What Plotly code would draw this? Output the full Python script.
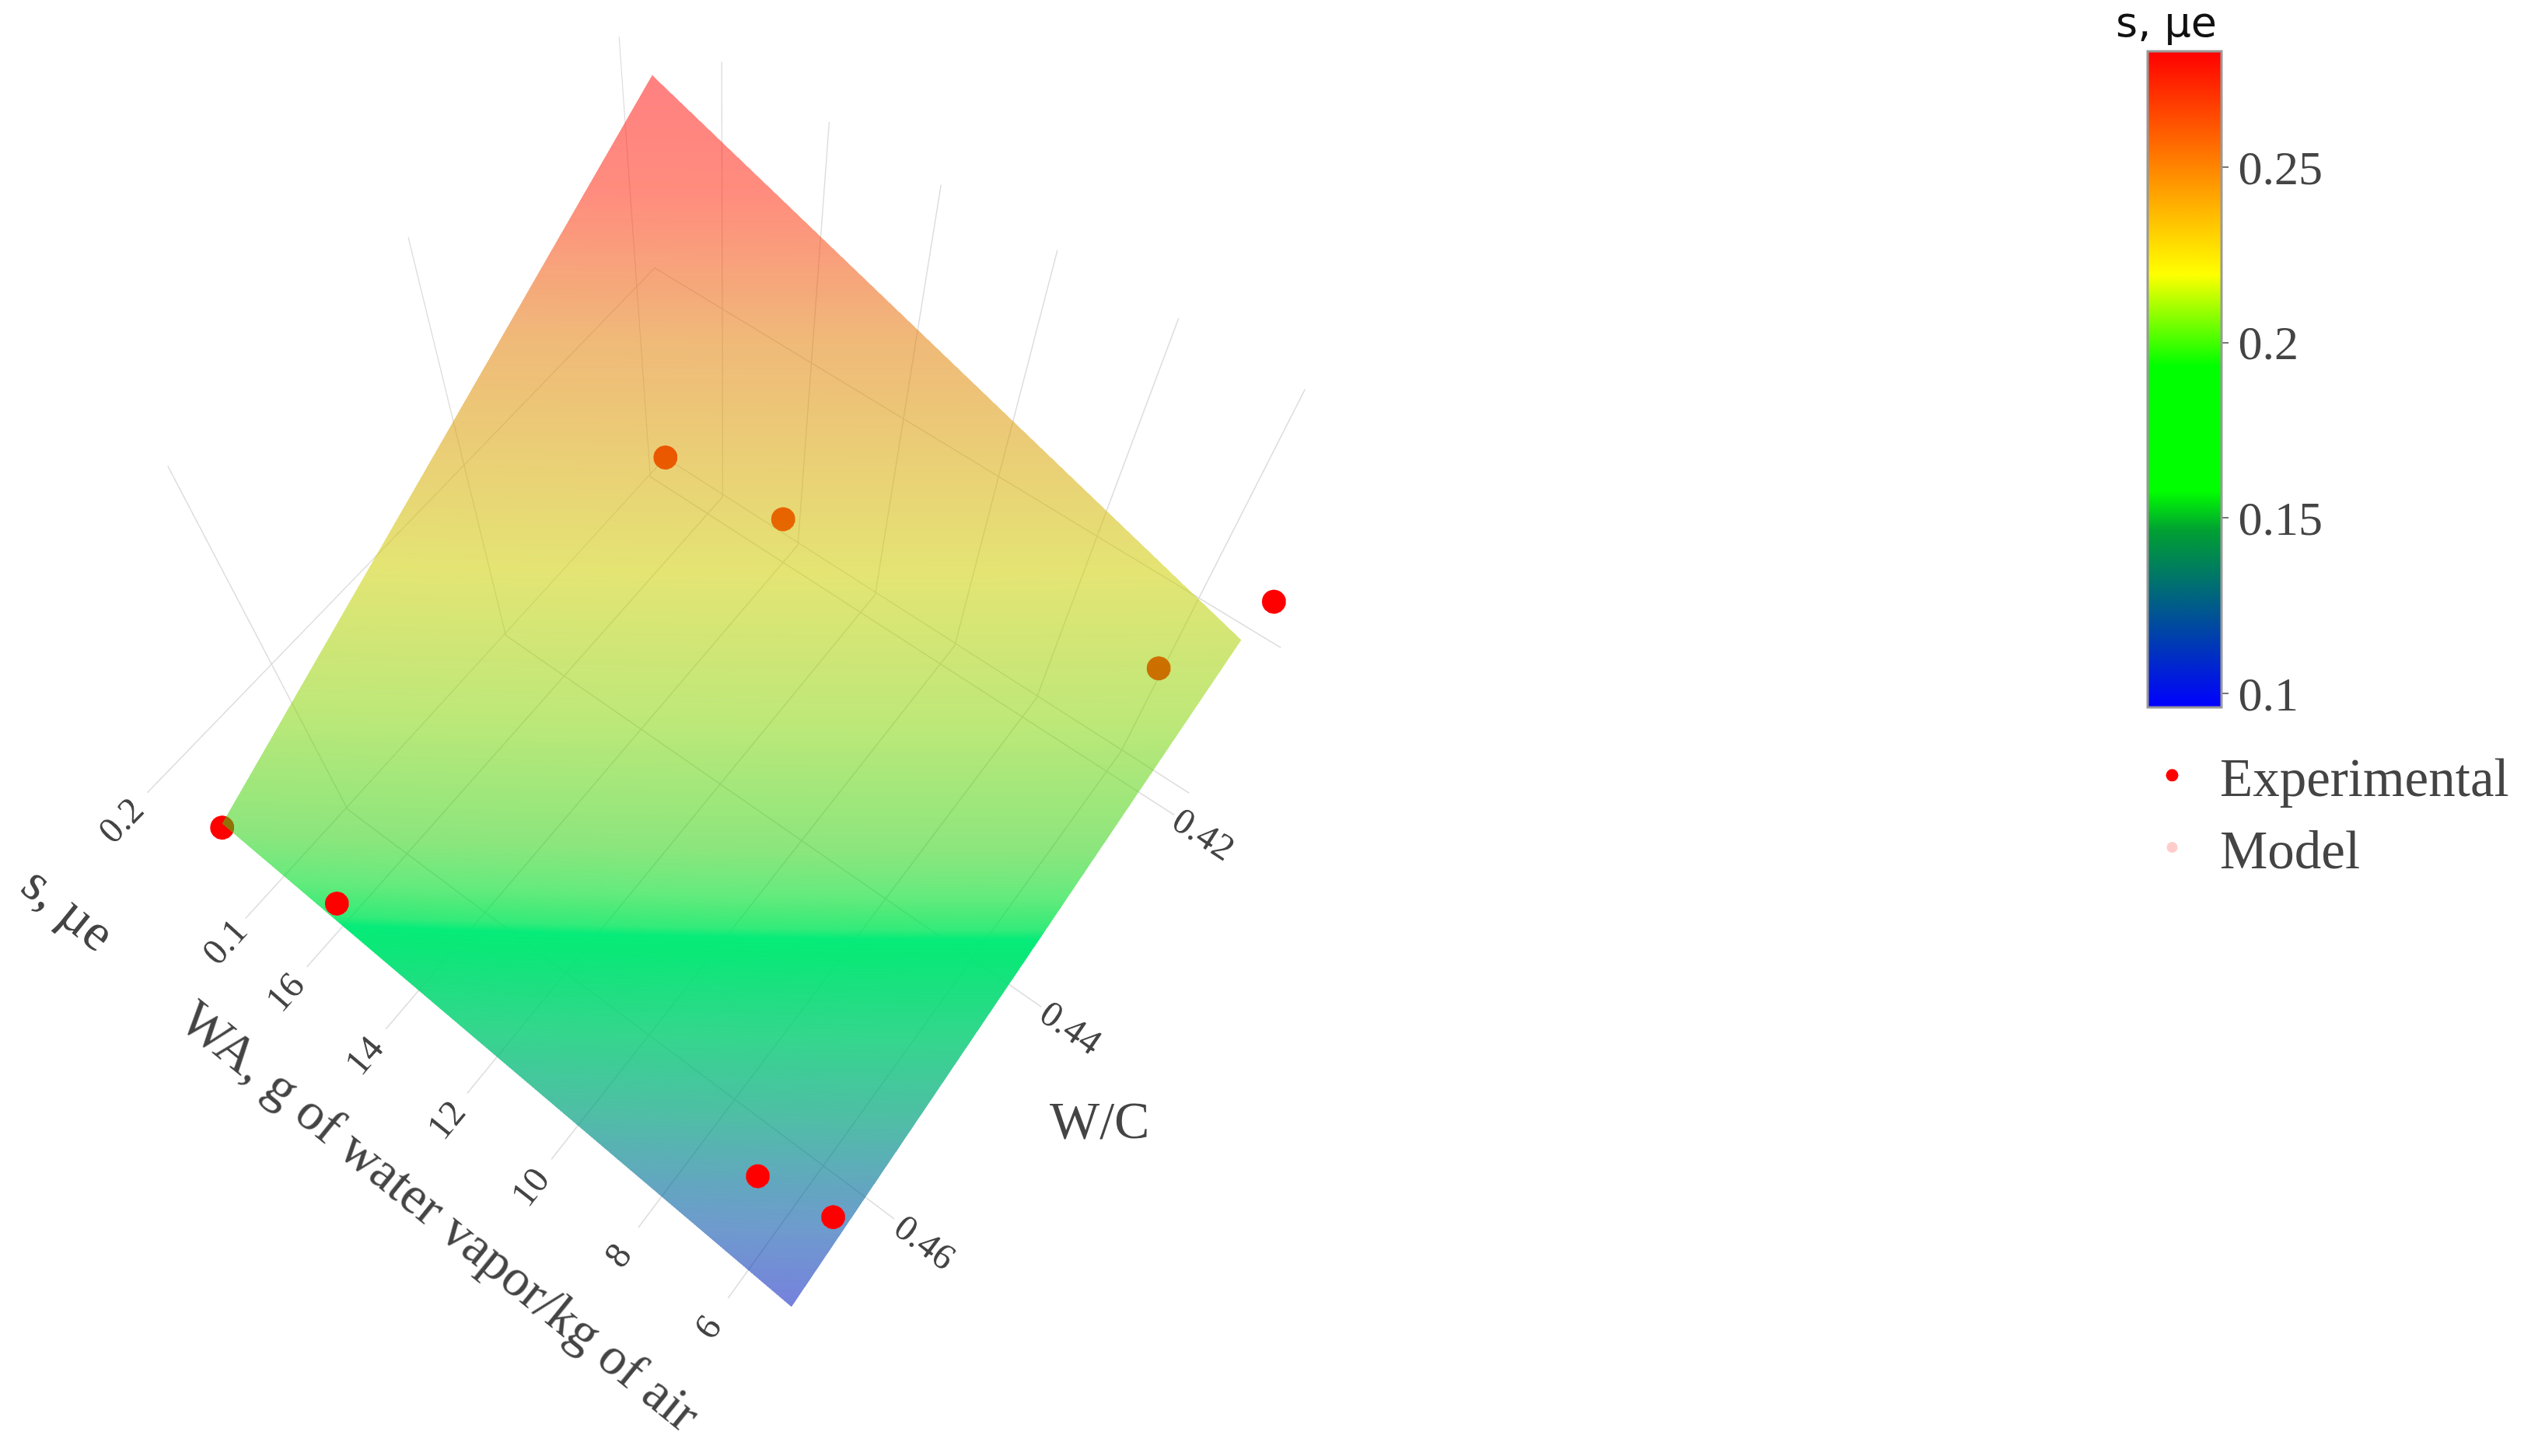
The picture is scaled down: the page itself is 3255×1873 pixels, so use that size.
import plotly.graph_objects as go

# axis values
wa_grid = [5.02, 17.0]
wc_grid = [0.4197, 0.4696]
s_surface = [[0.205, 0.286], [0.101, 0.175]]  # rows: W/C, cols: WA

exp_wa = [17.05, 14.62, 15.136, 12.484, 5.964, 4.856, 6.627, 5.261]
exp_wc = [0.4697, 0.469, 0.4295, 0.4299, 0.4212, 0.4217, 0.465, 0.4637]
exp_s = [0.172, 0.171, 0.19, 0.2, 0.18, 0.24, 0.135, 0.125]

cbar_ticks = [0.1, 0.15, 0.2, 0.25]
font = "Liberation Serif"

surface_scale = [
    [0.0, "rgba(0,0,200,0.53)"], [0.096, "rgba(0,80,167,0.57)"], [0.19, "rgba(0,161,125,0.69)"],
    [0.26, "rgba(0,205,111,0.8)"], [0.325, "rgba(0,231,114,0.96)"], [0.34, "rgba(0,235,118,0.98)"],
    [0.35, "rgba(0,230,89,0.8)"], [0.375, "rgba(0,222,42,0.61)"], [0.415, "rgba(45,209,18,0.55)"],
    [0.52, "rgba(132,211,0,0.53)"], [0.64, "rgba(206,206,0,0.55)"], [0.82, "rgba(226,123,0,0.53)"],
    [0.93, "rgba(255,34,5,0.52)"], [1.0, "rgba(255,5,0,0.5)"],
]
bar_scale = [
    [0.0, "rgb(0,0,255)"], [0.27, "rgb(0,160,50)"], [0.33, "rgb(0,255,0)"], [0.52, "rgb(0,255,0)"],
    [0.66, "rgb(255,255,0)"], [1.0, "rgb(255,0,0)"],
]
cmin, cmax = 0.096, 0.283

fig = go.Figure()
fig.add_trace(go.Surface(x=wa_grid, y=wc_grid, z=s_surface, colorscale=surface_scale, cmin=cmin, cmax=cmax,
                         showscale=False, name="Model", hoverinfo="skip",
                         lighting=dict(ambient=1, diffuse=0, specular=0, roughness=1, fresnel=0)))
fig.add_trace(go.Scatter3d(x=exp_wa, y=exp_wc, z=exp_s, mode="markers", name="Experimental",
                           marker=dict(size=18, color="#ff0000")))
fig.add_trace(go.Scatter3d(x=[None], y=[None], z=[None], mode="markers", name="Model",
                           marker=dict(size=14, color="rgba(255,0,0,0.2)", cmin=cmin, cmax=cmax)))
fig.add_trace(go.Scatter3d(x=[None], y=[None], z=[None], mode="markers", showlegend=False,
    marker=dict(size=1, color=[cmin], colorscale=bar_scale, cmin=cmin, cmax=cmax, showscale=True,
        colorbar=dict(x=2754/3255, xanchor="left", xpad=0, ypad=0, y=1-58/1873, yanchor="top",
                      len=844, lenmode="pixels", thickness=95, outlinecolor="#999", outlinewidth=3,
                      ticks="outside", ticklen=8, tickwidth=2, tickcolor="#777", tickvals=cbar_ticks,
                      ticktext=[str(v) for v in cbar_ticks],
                      tickfont=dict(family=font, size=62, color="#444")))))
ax = dict(showbackground=False, showspikes=False, zeroline=False, showline=False, gridcolor="#dcdcdc", gridwidth=3,
          tickfont=dict(family=font, size=24, color="#444"), ticks="outside", ticklen=25, tickcolor="#ffffff", tickwidth=1,
          title=dict(text=""))


def axis_title(text, x, y, angle, size=68):
    return dict(text=text, x=x/3255, y=1-y/1873, xref="paper", yref="paper", xanchor="center", yanchor="middle",
                textangle=angle, showarrow=False, font=dict(family=font, size=size, color="#444"))


fig.update_layout(
    width=3255, height=1873, margin=dict(l=0, r=0, t=0, b=0), paper_bgcolor="white",
    font=dict(family=font, color="#444"),
    legend=dict(x=2724/3255, y=1-938/1873, xanchor="left", yanchor="top", itemwidth=113,
                font=dict(family=font, size=69, color="#444")),
    annotations=[dict(text="s, µe", x=2778/3255, y=1-54/1873, xref="paper", yref="paper", xanchor="center", yanchor="bottom",
                      showarrow=False, font=dict(family="DejaVu Sans", size=54, color="#111")),
                 axis_title("WA, g of water vapor/kg of air", 559, 1555, 39),
                 axis_title("W/C", 1406, 1433, 0),
                 axis_title("s, µe", 81, 1160, 39, 68)],
    scene=dict(domain=dict(x=[0, 0.5679], y=[0.013, 1.0]),
               aspectmode="manual", aspectratio=dict(x=1, y=1, z=0.93),
               camera=dict(eye=dict(x=-0.547, y=0.727, z=1.96), up=dict(x=0, y=0, z=1), center=dict(x=0, y=0, z=0)),
               xaxis=dict(ax, range=[4.44, 17.56], tickvals=[6, 8, 10, 12, 14, 16]),
               yaxis=dict(ax, ticklen=21, range=[0.4178, 0.4718], tickvals=[0.42, 0.44, 0.46]),
               zaxis=dict(ax, range=[0.0985, 0.294], tickvals=[0.1, 0.2]),
               ),
)
fig.write_html("out.html")
